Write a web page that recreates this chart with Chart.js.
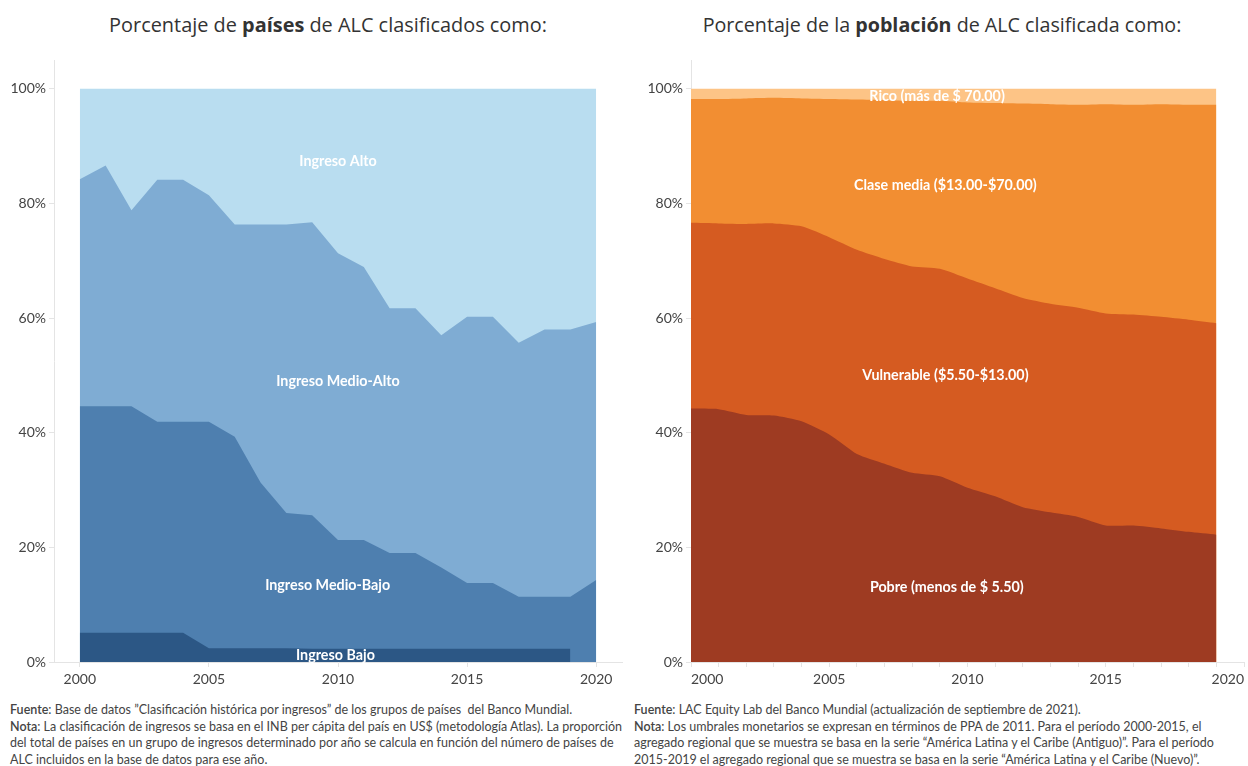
<!DOCTYPE html>
<html><head><meta charset="utf-8">
<script src="https://cdn.jsdelivr.net/npm/chart.js@4.4.1/dist/chart.umd.min.js"></script>
<style>
body{margin:0;width:1248px;height:766px;background:#fff;font-family:Lato,'Open Sans',sans-serif;overflow:hidden;position:relative}
.title{position:absolute;top:12px;font-family:'Open Sans',sans-serif;color:#333;white-space:nowrap;text-align:center;line-height:26px}
.title b{font-weight:700}
.note{position:absolute;top:702px;font-size:12.5px;color:#444;line-height:16.5px;white-space:nowrap}
canvas{position:absolute}
</style></head>
<body>
<div class="title" style="left:0;width:656px;font-size:19.9px">Porcentaje de <b>países</b> de ALC clasificados como:</div>
<div class="title" style="left:630px;width:624px;font-size:19.7px">Porcentaje de la <b>población</b> de ALC clasificada como:</div>
<canvas id="c1" width="624" height="660" style="left:0;top:40px"></canvas>
<canvas id="c2" width="624" height="660" style="left:624px;top:40px"></canvas>
<div class="note" style="left:10px"><b style="font-weight:600">Fuente</b>: Base de datos ”Clasificación histórica por ingresos” de los grupos de países &nbsp;del Banco Mundial.<br><b style="font-weight:600">Nota</b>: La clasificación de ingresos se basa en el INB per cápita del país en US$ (metodología Atlas). La proporción<br>del total de países en un grupo de ingresos determinado por año se calcula en función del número de países de<br>ALC incluidos en la base de datos para ese año.</div>
<div class="note" style="left:634px"><b style="font-weight:600">Fuente</b>: LAC Equity Lab del Banco Mundial (actualización de septiembre de 2021).<br><b style="font-weight:600">Nota</b>: Los umbrales monetarios se expresan en términos de PPA de 2011. Para el período 2000-2015, el<br>agregado regional que se muestra se basa en la serie “América Latina y el Caribe (Antiguo)”. Para el período<br>2015-2019 el agregado regional que se muestra se basa en la serie “América Latina y el Caribe (Nuevo)”.</div>
<script>
// ---- Left chart data (% of countries) ----
const yearsLeft = [2000,2001,2002,2003,2004,2005,2006,2007,2008,2009,2010,2011,2012,2013,2014,2015,2016,2017,2018,2019,2020];
const ingresoBajo     = [5.1,5.1,5.1,5.1,5.1,2.4,2.4,2.4,2.4,2.3,2.3,2.3,2.3,2.3,2.3,2.3,2.3,2.3,2.3,2.3,null];
const ingresoMedioBajo= [39.5,39.5,39.5,36.8,36.8,39.5,36.9,28.9,23.6,23.3,19.0,19.0,16.7,16.7,14.2,11.5,11.5,9.1,9.1,9.1,14.3];
const ingresoMedioAlto= [39.6,42.0,34.2,42.2,42.2,39.5,37.0,45.0,50.3,51.1,50.0,47.6,42.7,42.7,40.5,46.4,46.4,44.3,46.6,46.6,45.0];
const ingresoAlto     = [15.8,13.4,21.2,15.9,15.9,18.6,23.7,23.7,23.7,23.3,28.7,31.1,38.3,38.3,43.0,39.8,39.8,44.3,42.0,42.0,40.7];
const namesLeft = ['Ingreso Bajo','Ingreso Medio-Bajo','Ingreso Medio-Alto','Ingreso Alto'];

// ---- Right chart data (% of population) ----
const yearsRight = [2000,2001,2002,2003,2004,2005,2006,2007,2008,2009,2010,2011,2012,2013,2014,2015,2016,2017,2018,2019];
const pobre       = [44.2,44.1,43.1,43.0,42.0,39.7,36.3,34.6,33.0,32.4,30.4,28.9,27.0,26.1,25.3,23.8,23.8,23.3,22.7,22.2];
const vulnerable  = [32.4,32.4,33.3,33.5,34.0,34.4,35.6,35.7,36.0,36.2,36.5,36.3,36.5,36.4,36.5,37.0,36.8,36.9,37.0,36.9];
const claseMedia  = [21.6,21.7,21.9,21.9,22.3,24.1,26.2,27.7,28.9,29.3,30.7,32.3,33.9,34.8,35.4,36.5,36.6,37.1,37.5,38.1];
const rico        = [1.8,1.8,1.7,1.6,1.7,1.8,1.9,2.0,2.1,2.1,2.4,2.5,2.6,2.7,2.8,2.7,2.8,2.7,2.8,2.8];
const namesRight = ['Pobre (menos de $ 5.50)','Vulnerable ($5.50-$13.00)','Clase media ($13.00-$70.00)','Rico (más de $ 70.00)'];

const yTicks = [0,20,40,60,80,100];
const xTicksLeft = [2000,2005,2010,2015,2020];

const FONT = 'Lato';
const areaLabels = {
  id:'areaLabels',
  afterDatasetsDraw(chart, args, opts){
    const {ctx, scales:{x,y}} = chart;
    ctx.save();
    ctx.font = 'bold 14.3px ' + FONT;
    ctx.fillStyle = '#fff';
    ctx.textAlign = 'center'; ctx.textBaseline = 'middle';
    opts.items.forEach(it => ctx.fillText(it.text, x.getPixelForValue(it.x), y.getPixelForValue(it.y)));
    ctx.restore();
  }
};

function ds(label, data, color, tension){
  return {label, data, backgroundColor:color, borderWidth:0, pointRadius:0, pointHoverRadius:0, fill:'origin', tension};
}
const axisColor = '#e4e4e4';
function makeOptions(cfg){
  return {
    responsive:false, animation:false, events:[],
    layout:{padding:{top:20, right:cfg.padRight, left:0, bottom:0}},
    plugins:{legend:{display:false}, tooltip:{enabled:false}, areaLabels:{items:cfg.items}},
    scales:{
      x:{type:'linear', min:cfg.xmin, max:cfg.xmax,
         afterFit(s){ s.height = 38; },
         afterBuildTicks: cfg.xTicks ? (s)=>{ s.ticks = cfg.xTicks.map(v=>({value:v})); } : undefined,
         ticks:{stepSize:1, autoSkip:false, maxRotation:0, align:cfg.align, padding:4, color:'#444',
                font:{family:FONT, size:14},
                callback:(v)=> (v%5===0 ? String(v) : '')},
         grid:{drawOnChartArea:false, tickLength:5, color:axisColor},
         border:{color:axisColor}},
      y:{stacked:true, min:0, max:105,
         afterFit(s){ s.width = cfg.yWidth; },
         afterBuildTicks(s){ s.ticks = yTicks.map(v=>({value:v})); },
         ticks:{padding:3, color:'#444', font:{family:FONT, size:14}, callback:(v)=>v+'%'},
         grid:{drawOnChartArea:false, tickLength:5, color:axisColor},
         border:{color:axisColor}}
    }
  };
}

new Chart(document.getElementById('c1'), {
  type:'line',
  data:{labels:yearsLeft, datasets:[
    ds(namesLeft[0], ingresoBajo, '#2c5785', 0),
    ds(namesLeft[1], ingresoMedioBajo, '#4e7faf', 0),
    ds(namesLeft[2], ingresoMedioAlto, '#7facd3', 0),
    ds(namesLeft[3], ingresoAlto, '#b9ddf0', 0)
  ]},
  options: makeOptions({xmin:1999, xmax:2021, xTicks:xTicksLeft, align:'center', yWidth:54, padRight:2,
    items:[{text:namesLeft[3], x:2010, y:87.4},{text:namesLeft[2], x:2010, y:49.0},
           {text:namesLeft[1], x:2009.6, y:13.4},{text:namesLeft[0], x:2009.9, y:1.2}]}),
  plugins:[areaLabels]
});

new Chart(document.getElementById('c2'), {
  type:'line',
  data:{labels:yearsRight, datasets:[
    ds(namesRight[0], pobre, '#9e3b22', 0.2),
    ds(namesRight[1], vulnerable, '#d55b21', 0.2),
    ds(namesRight[2], claseMedia, '#f28e32', 0.2),
    ds(namesRight[3], rico, '#fdc486', 0.2)
  ]},
  options: makeOptions({xmin:2000, xmax:2020, xTicks:null, align:'inner', yWidth:67, padRight:3,
    items:[{text:namesRight[3], x:2008.9, y:98.7},{text:namesRight[2], x:2009.2, y:83.1},
           {text:namesRight[1], x:2009.2, y:50.0},{text:namesRight[0], x:2009.25, y:13.0}]}),
  plugins:[areaLabels]
});
</script>
</body></html>
